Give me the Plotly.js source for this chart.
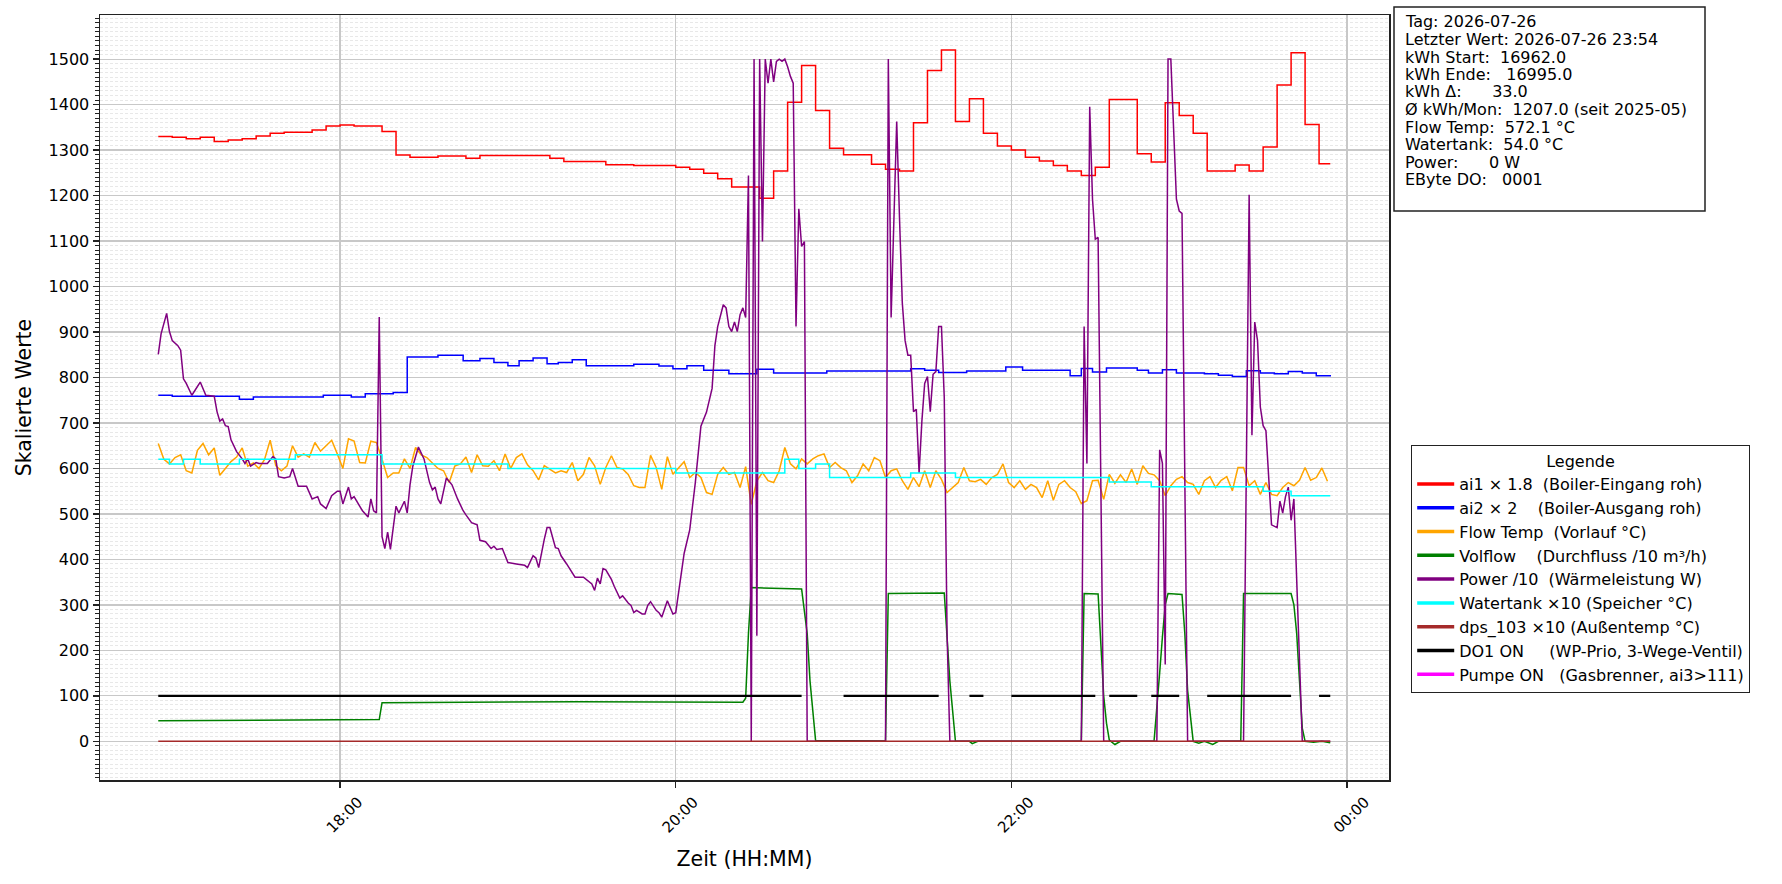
<!DOCTYPE html>
<html>
<head>
<meta charset="utf-8">
<script src="https://cdn.plot.ly/plotly-3.0.1.min.js"></script>
<style>
  html, body { margin: 0; padding: 0; background: #fff; }
  #chart { width: 1782px; height: 884px; }
</style>
</head>
<body>
<div id="chart"></div>
<script>
// Tagesverlauf 2026-07-26 — scaled sensor values.
const DAY = "2026-07-26";

// ai1 × 1.8 (Boiler-Eingang roh) — value holds from each time until the next
const ai1T = ["16:55","17:00","17:05","17:10","17:15","17:20","17:25","17:30","17:35","17:40",
  "17:50","17:55","18:00","18:05","18:15","18:20","18:25","18:35","18:45","18:50",
  "19:15","19:20","19:35","19:45","20:00","20:05","20:10","20:15","20:20","20:30",
  "20:35","20:40","20:45","20:50","20:55","21:00","21:10","21:15","21:20","21:25",
  "21:30","21:35","21:40","21:45","21:50","21:55","22:00","22:05","22:10","22:15",
  "22:20","22:25","22:30","22:35","22:45","22:50","22:55","23:00","23:05","23:10",
  "23:20","23:25","23:30","23:35","23:40","23:45","23:50","23:54"];
const ai1V = [1330,1328,1325,1328,1319,1322,1325,1331,1337,1339,
  1344,1353,1355,1353,1341,1289,1284,1287,1282,1288,
  1282,1275,1268,1266,1262,1258,1249,1237,1219,1194,
  1254,1405,1486,1387,1304,1290,1269,1258,1254,1360,
  1475,1520,1363,1413,1337,1309,1300,1284,1276,1266,
  1254,1244,1262,1411,1292,1274,1404,1376,1337,1254,
  1267,1254,1307,1443,1514,1356,1270,1270];

// ai2 × 2 (Boiler-Ausgang roh)
const ai2T = ["16:55","17:00","17:24","17:29","17:54","18:04","18:09","18:19","18:24","18:35",
  "18:44","18:50","18:55","19:00","19:04","19:09","19:14","19:18","19:23","19:28",
  "19:45","19:54","19:59","20:04","20:10","20:19","20:29","20:35","20:54","21:24",
  "21:29","21:34","21:44","21:58","22:04","22:21","22:25","22:29","22:34","22:45",
  "22:49","22:54","22:59","23:09","23:14","23:19","23:24","23:29","23:34","23:39",
  "23:44","23:49","23:54"];
const ai2V = [761,759,752,757,761,757,764,767,845,849,
  837,842,833,826,837,843,830,833,839,826,
  829,825,819,826,816,808,818,810,814,819,
  816,811,814,823,816,804,820,812,821,816,
  810,817,810,808,805,802,815,810,808,813,
  810,804,802];

// Flow Temp (Vorlauf °C), every 2 minutes from 16:55
const flowStart = "16:55";
const flowStepMin = 2;
const flowV = [
  655,620,610,624,630,595,590,640,655,630, 645,585,600,615,625,645,605,612,600,620,
  662,606,595,605,650,625,632,625,657,638, 650,662,632,600,665,660,613,612,660,657,
  620,580,590,590,621,600,646,630,624,612, 600,595,569,605,610,625,591,630,606,605,
  617,595,632,600,624,632,608,595,575,606, 597,590,595,591,
  613,573,587,624,606,565,602,628,602,599, 587,562,558,558,629,602,554,626,587,600,
  615,580,591,580,547,543,587,602,587,591, 558,604,521,573,591,573,569,595,646,610,
  599,621,610,621,628,632,602,613,602,595, 569,584,610,595,624,617,580,595,599,573,
  554,580,560,595,558,595,576,547,558,569, 602,573,571,576,565,
  580,587,610,569,558,573,554,565,558,536, 573,530,565,573,558,549,523,529,573,574,
  532,587,567,586,569,599,565,606,589,586, 573,540,562,576,582,569,565,543,573,582,
  558,574,582,551,602,602,562,573,543,569, 543,540,558,569,562,574,602,574,580,601,
  572];

// Volflow (Durchfluss /10 m³/h)
const volT = ["16:55","17:35","18:14","18:15","19:25","20:24","20:25","20:26","20:27","20:45",
  "20:47","20:48","20:50","21:15","21:16","21:36","21:37","21:38","21:40","21:45",
  "21:46","21:48","22:25","22:26","22:31","22:32","22:33","22:34","22:35","22:37",
  "22:39","22:51","22:52","22:53","22:54","22:55","22:56","23:01","23:02","23:03",
  "23:05","23:07","23:09","23:12","23:14","23:22","23:23","23:40","23:41","23:42",
  "23:43","23:44","23:45","23:48","23:51","23:54"];
const volV = [45,46,48,85,87,86,95,237,338,335,
  237,133,2,1,325,326,237,133,0,0,
  -5,0,0,325,324,200,100,40,3,-7,
  0,0,70,150,230,300,325,323,237,112,
  0,-4,0,-7,0,0,325,325,300,237,
  133,29,0,-2,0,-3];

// Power /10 (Wärmeleistung W) — [time, value]
const powerPts = [
  ["16:55",851],["16:56",896],["16:58",941],["16:59",901],["17:00",881],["17:02",870],["17:03",860],["17:04",797],
  ["17:05",787],["17:07",761],["17:10",790],["17:12",761],["17:15",759],["17:16",725],["17:17",704],["17:18",709],
  ["17:19",694],["17:20",692],["17:21",663],["17:23",637],["17:25",621],["17:26",611],["17:27",621],["17:28",605],
  ["17:30",613],["17:31",611],["17:34",611],["17:36",626],["17:37",621],["17:38",582],["17:40",579],["17:42",582],
  ["17:43",600],["17:45",561],["17:48",561],["17:50",533],["17:52",538],["17:53",522],["17:55",512],["17:57",540],
  ["17:59",550],["18:00",550],["18:01",522],["18:03",559],["18:04",533],["18:05",538],["18:07",517],["18:08",507],
  ["18:10",493],["18:11",533],["18:12",507],["18:13",502],["18:14",933],["18:15",450],["18:16",424],["18:17",460],
  ["18:18",422],["18:20",517],["18:21",502],["18:23",528],["18:24",502],["18:25",564],["18:26",605],["18:28",647],
  ["18:30",621],["18:32",569],["18:33",553],["18:34",559],["18:35",533],["18:36",522],["18:38",579],["18:40",564],
  ["18:42",533],["18:44",507],["18:45",498],["18:47",481],["18:49",476],["18:50",442],["18:52",439],["18:54",424],
  ["18:55",429],["18:56",422],["18:58",424],["19:00",393],["19:03",390],["19:06",387],["19:07",382],["19:09",408],
  ["19:10",403],["19:11",382],["19:13",444],["19:14",470],["19:15",470],["19:17",426],["19:18",424],["19:19",408],
  ["19:21",390],["19:22",380],["19:24",361],["19:27",361],["19:29",351],["19:30",346],["19:31",332],["19:32",359],
  ["19:33",346],["19:34",380],["19:35",377],["19:37",356],["19:38",341],["19:40",315],["19:41",320],["19:43",304],
  ["19:44",299],["19:45",283],["19:46",288],["19:48",280],["19:49",280],["19:50",299],["19:51",307],["19:53",288],
  ["19:54",283],["19:55",273],["19:57",309],["19:58",294],["19:59",280],["20:00",283],["20:01",325],["20:03",413],
  ["20:05",465],["20:07",569],["20:09",693],["20:11",724],["20:13",776],["20:14",870],["20:15",912],["20:17",960],
  ["20:18",953],["20:19",912],["20:20",901],["20:21",922],["20:22",901],["20:23",938],["20:24",953],["20:25",932],
  ["20:26",1244],["20:27",0],["20:28",1500],["20:29",232],["20:30",1500],["20:31",1099],["20:32",1500],["20:33",1447],
  ["20:34",1500],["20:35",1450],["20:36",1495],["20:37",1500],["20:38",1495],["20:39",1500],["20:40",1483],["20:41",1462],
  ["20:42",1447],["20:43",912],["20:44",1171],["20:45",1088],["20:46",1099],["20:47",0],["21:15",0],["21:16",1500],
  ["21:17",932],["21:19",1363],["21:20",1150],["21:21",964],["21:22",881],["21:23",849],["21:24",849],["21:25",725],
  ["21:26",730],["21:27",590],["21:28",704],["21:29",787],["21:30",802],["21:31",725],["21:32",807],["21:33",813],
  ["21:34",912],["21:35",912],["21:36",756],["21:37",237],["21:38",0],["22:25",0],["22:26",912],["22:27",611],
  ["22:28",1395],["22:29",1192],["22:30",1104],["22:31",1108],["22:33",0],["22:52",0],["22:53",641],["22:54",611],
  ["22:55",169],["22:56",1500],["22:57",1500],["22:59",1192],["23:00",1166],["23:01",1161],["23:03",0],["23:23",0],
  ["23:25",1202],["23:26",673],["23:27",922],["23:28",881],["23:29",735],["23:30",694],["23:31",683],["23:32",590],
  ["23:33",476],["23:35",470],["23:36",528],["23:37",502],["23:38",538],["23:39",559],["23:40",486],["23:41",533],
  ["23:42",341],["23:44",0],["23:54",0]
];

// Watertank ×10 (Speicher °C)
const tankT = ["16:55","16:59","17:04","17:10","17:24","17:44","18:15","19:00","20:00","20:39",
  "20:44","20:50","20:55","21:24","21:40","22:35","22:50","23:30","23:40","23:54"];
const tankV = [620,610,620,610,620,630,610,600,590,620,600,610,580,590,580,570,560,550,540,540];

// dps_103 ×10 (Außentemp °C)
const dpsT = ["16:55","23:54"];
const dpsV = [0, 0];

// DO1 ON (WP-Prio) — 100 while on, null = off
const doT = ["16:55","20:45","20:46","21:00","21:34","21:35","21:45","21:50","21:51","22:00",
  "22:30","22:31","22:35","22:45","22:46","22:50","23:00","23:01","23:10","23:40",
  "23:41","23:50","23:54"];
const doV = [100,100,null,100,100,null,100,100,null,100,100,null,100,100,null,100,100,null,100,100,null,100,100];

// Pumpe ON (Gasbrenner) — never on this day
const pumpT = [];
const pumpV = [];

const infoLines = [
  "Tag: 2026-07-26",
  "Letzter Wert: 2026-07-26 23:54",
  "kWh Start:  16962.0",
  "kWh Ende:   16995.0",
  "kWh Δ:      33.0",
  "Ø kWh/Mon:  1207.0 (seit 2025-05)",
  "Flow Temp:  572.1 °C",
  "Watertank:  54.0 °C",
  "Power:      0 W",
  "EByte DO:   0001",
];

// ---- helpers ----
const nb = s => s.replace(/ /g, "\u00a0");
const ts = hm => `${DAY} ${hm}`;
function addMin(hm, m) {
  const [h, mm] = hm.split(":").map(Number);
  const t = h * 60 + mm + m;
  return String(Math.floor(t / 60)).padStart(2, "0") + ":" + String(t % 60).padStart(2, "0");
}
const flowT = flowV.map((_, i) => addMin(flowStart, i * flowStepMin));

const series = [
  { name: "ai1 × 1.8  (Boiler-Eingang roh)",      color: "#ff0000", x: ai1T, y: ai1V, shape: "hv" },
  { name: "ai2 × 2    (Boiler-Ausgang roh)",      color: "#0000ff", x: ai2T, y: ai2V, shape: "hv" },
  { name: "Flow Temp  (Vorlauf °C)",              color: "#ffa500", x: flowT, y: flowV },
  { name: "Volflow    (Durchfluss /10 m³/h)",     color: "#008000", x: volT, y: volV },
  { name: "Power /10  (Wärmeleistung W)",         color: "#800080", x: powerPts.map(p => p[0]), y: powerPts.map(p => p[1]) },
  { name: "Watertank ×10 (Speicher °C)",          color: "#00ffff", x: tankT, y: tankV, shape: "hv" },
  { name: "dps_103 ×10 (Außentemp °C)",           color: "#a52a2a", x: dpsT, y: dpsV },
  { name: "DO1 ON     (WP-Prio, 3-Wege-Ventil)",  color: "#000000", x: doT, y: doV, width: 2.3 },
  { name: "Pumpe ON   (Gasbrenner, ai3>111)",     color: "#ff00ff", x: pumpT, y: pumpV },
];

const traces = series.map((s, i) => ({
  type: "scatter", mode: "lines",
  x: s.x.map(ts), y: s.y,
  line: { color: s.color, width: s.width || 1.5, shape: s.shape || "linear" },
  connectgaps: false, hoverinfo: "skip",
  legendgroup: "g" + i, showlegend: false,
}));
// legend-only handles with the thick matplotlib-style line
series.forEach((s, i) => traces.push({
  type: "scatter", mode: "lines", x: [null], y: [null],
  line: { color: s.color, width: 3.5 },
  name: nb(s.name), legendgroup: "g" + i, showlegend: true, hoverinfo: "skip",
}));

// info box geometry (pixels -> paper), plot area is x 100..1389, y 15..780
const PL = 100, PW = 1289, PT = 15, PH = 765;
const px = x => (x - PL) / PW;
const py = y => 1 - (y - PT) / PH;

const annotations = infoLines.map((t, k) => ({
  xref: "paper", yref: "paper", x: px(1403), y: py(22 + 17.5 * k),
  xanchor: "left", yanchor: "middle", showarrow: false, align: "left",
  text: nb(t), font: { size: 16, color: "#000" },
}));

const axisLine = { showline: true, linecolor: "#222", linewidth: 1.5, mirror: true, zeroline: false };

const layout = {
  width: 1782, height: 884,
  margin: { l: PL, r: 1782 - PL - PW, t: PT, b: 884 - PT - PH },
  paper_bgcolor: "#fff", plot_bgcolor: "#fff",
  font: { family: "DejaVu Sans, sans-serif", size: 16, color: "#000" },
  showlegend: true,
  legend: {
    x: px(1411), y: py(445), xanchor: "left", yanchor: "top",
    bgcolor: "#fff", bordercolor: "#222", borderwidth: 1.2,
    font: { size: 16 }, tracegroupgap: 0, itemwidth: 37,
    title: { text: "Legende", side: "top center", font: { size: 16 } },
  },
  xaxis: {
    ...axisLine, type: "date",
    range: [`${DAY} 16:34:10`, "2026-07-27 00:15:00"],
    tick0: `${DAY} 00:00`, dtick: 2 * 3600 * 1000, tickformat: "%H:%M",
    tickangle: -45, ticks: "outside", ticklen: 6, tickwidth: 1.3, tickcolor: "#222",
    ticklabelshift: 18, tickfont: { size: 15 },
    showgrid: true, gridcolor: "#c8c8c8", gridwidth: 1.2,
    title: { text: "Zeit (HH:MM)", font: { size: 20.5 }, standoff: 16 },
  },
  yaxis: {
    ...axisLine,
    range: [-85, 1597], tick0: 0, dtick: 100,
    ticks: "outside", ticklen: 6, tickwidth: 1.3, tickcolor: "#222",
    tickfont: { size: 16 },
    showgrid: true, gridcolor: "#c8c8c8", gridwidth: 1.2,
    minor: {
      tick0: 0, dtick: 10, ticks: "outside", ticklen: 3.5, tickwidth: 1, tickcolor: "#222",
      showgrid: true, gridcolor: "#d9d9d9", gridwidth: 0.6, griddash: "3px,2px",
    },
    title: { text: "Skalierte Werte", font: { size: 20.5 }, standoff: 11 },
  },
  shapes: [{
    type: "rect", xref: "paper", yref: "paper",
    x0: px(1394), x1: px(1705), y0: py(211), y1: py(7),
    line: { color: "#222", width: 1.5 }, fillcolor: "#fff", layer: "above",
  }],
  annotations,
};

Plotly.newPlot("chart", traces, layout, { displayModeBar: false, staticPlot: true });
</script>
</body>
</html>
